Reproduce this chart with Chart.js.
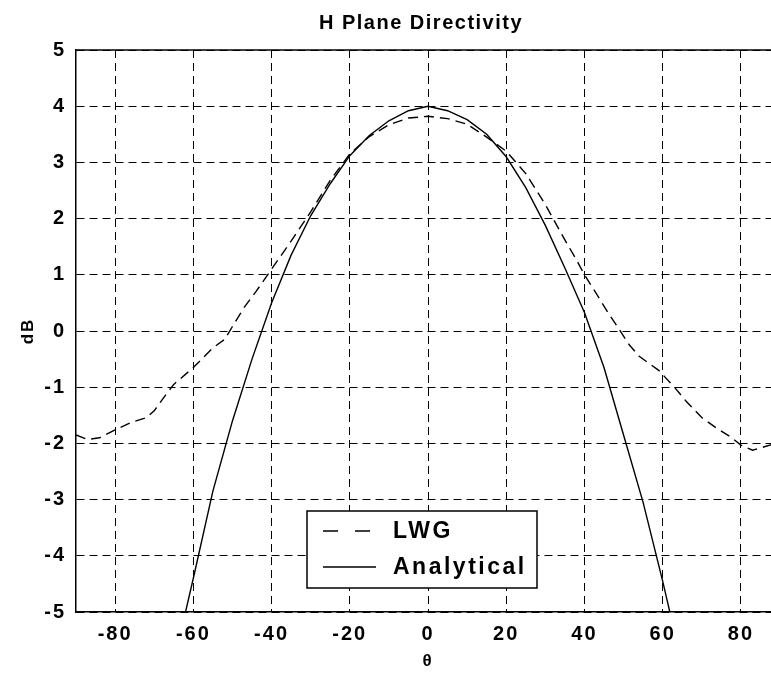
<!DOCTYPE html>
<html>
<head>
<meta charset="utf-8">
<script src="https://cdn.jsdelivr.net/npm/chart.js@4.4.1/dist/chart.umd.min.js"></script>
<style>
  html, body { margin: 0; padding: 0; background: #fff; overflow: hidden; width: 771px; height: 674px; }
  #wrap { width: 790px; height: 674px; }
</style>
</head>
<body>
<div id="wrap"><canvas id="c" width="790" height="674"></canvas></div>
<script>
// Measured (LWG) and analytical H-plane directivity, dB versus angle in degrees
const thetaLWG = [-90, -87, -84, -80, -76, -72, -70, -67, -65, -60, -55, -52, -50, -47, -44, -41, -35, -30, -25, -20, -15, -10, -5, 0,
                  5, 10, 15, 20, 25, 30, 35, 38, 40, 43, 46, 48.5, 51.5, 54, 56, 59, 63, 66, 70, 74, 77.5, 80, 83, 86, 90];
const lwgDB = [-1.85, -1.93, -1.9, -1.76, -1.63, -1.54, -1.42, -1.13, -0.95, -0.65, -0.3, -0.15, 0.08, 0.42, 0.7, 1.0, 1.6, 2.12, 2.68, 3.15, 3.46, 3.67, 3.79, 3.82,
               3.78, 3.68, 3.45, 3.2, 2.8, 2.25, 1.62, 1.26, 1.0, 0.67, 0.33, 0.07, -0.25, -0.45, -0.55, -0.7, -1.0, -1.25, -1.54, -1.74, -1.89, -2.03, -2.12, -2.06, -1.98];

const thetaAnalytical = [-63, -60, -55, -50, -45, -40, -35, -30, -25, -20, -15, -10, -5, 0,
                         5, 10, 15, 20, 25, 30, 35, 40, 45, 50, 55, 60, 63];
const analyticalDB = [-5.3, -4.4, -2.85, -1.6, -0.5, 0.5, 1.35, 2.05, 2.62, 3.12, 3.48, 3.74, 3.92, 4.0,
                      3.92, 3.76, 3.5, 3.1, 2.55, 1.88, 1.12, 0.33, -0.65, -1.85, -3.05, -4.45, -5.35];

const xTickValues = [-80, -60, -40, -20, 0, 20, 40, 60, 80];
const yTickValues = [-5, -4, -3, -2, -1, 0, 1, 2, 3, 4, 5];
const seriesNames = ['LWG', 'Analytical'];
const chartTitle = 'H Plane Directivity';
const xAxisTitle = 'θ';
const yAxisTitle = 'dB';

const FONT = '"Liberation Sans", Arial, Helvetica, sans-serif';

const toPoints = (xs, ys) => xs.map((x, i) => ({ x: x, y: ys[i] }));

// Wider letter spacing for all text drawn on the canvas
const spacingPlugin = {
  id: 'spacing',
  beforeDraw(chart) { chart.ctx.letterSpacing = '2px'; },
  afterDraw(chart) { chart.ctx.letterSpacing = '0px'; }
};

// Top/right frame of the axes box and the plot title
const framePlugin = {
  id: 'frame',
  afterDatasetsDraw(chart) {
    const { ctx, chartArea: a } = chart;
    ctx.save();
    ctx.strokeStyle = '#000';
    ctx.lineWidth = 1.5;
    ctx.setLineDash([]);
    ctx.beginPath();
    ctx.moveTo(a.left, a.top);
    ctx.lineTo(a.right, a.top);
    ctx.lineTo(a.right, a.bottom);
    ctx.stroke();
    ctx.restore();
  },
  afterDraw(chart) {
    const { ctx, chartArea: a } = chart;
    ctx.save();
    ctx.letterSpacing = '1.5px';
    ctx.fillStyle = '#000';
    ctx.font = 'bold 20px ' + FONT;
    ctx.textAlign = 'center';
    ctx.textBaseline = 'middle';
    ctx.fillText(chartTitle, (a.left + a.right) / 2 - 7, a.top - 27);
    ctx.restore();
  }
};

// Boxed legend inside the lower part of the axes
const legendBoxPlugin = {
  id: 'legendBox',
  afterDraw(chart) {
    const { ctx, chartArea: a } = chart;
    const left = a.left + 231, top = a.bottom - 101, w = 230, h = 77;
    ctx.save();
    ctx.fillStyle = '#fff';
    ctx.fillRect(left, top, w, h);
    ctx.strokeStyle = '#000';
    ctx.lineWidth = 1.5;
    ctx.setLineDash([]);
    ctx.strokeRect(left, top, w, h);
    const rows = [top + 20, top + 56];
    chart.data.datasets.forEach((ds, i) => {
      const y = rows[i];
      ctx.beginPath();
      ctx.strokeStyle = ds.borderColor;
      ctx.lineWidth = 1.4;
      ctx.setLineDash(i === 0 ? [15, 17] : []);
      ctx.moveTo(left + 16, y);
      ctx.lineTo(left + 69, y);
      ctx.stroke();
      ctx.setLineDash([]);
      ctx.letterSpacing = '2.5px';
      ctx.fillStyle = '#000';
      ctx.font = 'bold 23px ' + FONT;
      ctx.textAlign = 'left';
      ctx.textBaseline = 'middle';
      ctx.fillText(ds.label, left + 86, y + 1);
    });
    ctx.restore();
  }
};

const tickFont = { family: FONT, size: 20, weight: 'bold' };

new Chart(document.getElementById('c'), {
  type: 'line',
  data: {
    datasets: [
      {
        label: seriesNames[0],
        data: toPoints(thetaLWG, lwgDB),
        borderColor: '#000',
        borderWidth: 1.4,
        borderDash: [10, 6],
        pointRadius: 0,
        tension: 0,
        fill: false
      },
      {
        label: seriesNames[1],
        data: toPoints(thetaAnalytical, analyticalDB),
        borderColor: '#000',
        borderWidth: 1.4,
        pointRadius: 0,
        tension: 0,
        fill: false
      }
    ]
  },
  options: {
    responsive: false,
    animation: false,
    devicePixelRatio: 1,
    layout: { padding: { top: 50, right: 10, left: 0, bottom: 0 } },
    plugins: {
      legend: { display: false },
      tooltip: { enabled: false },
      title: { display: false }
    },
    scales: {
      x: {
        type: 'linear',
        min: -90,
        max: 90,
        afterBuildTicks: s => { s.ticks = xTickValues.map(v => ({ value: v })); },
        afterFit: s => { s.height = 62; },
        grid: { color: '#000', lineWidth: 1, drawTicks: false },
        border: { display: true, color: '#000', width: 1.5, dash: [8, 5] },
        ticks: { color: '#000', font: tickFont, padding: 10, maxRotation: 0, autoSkip: false },
        title: { display: true, text: xAxisTitle, color: '#000',
                 font: { family: FONT, size: 17, weight: 'bold' }, padding: { top: 0, bottom: 2 } }
      },
      y: {
        type: 'linear',
        min: -5,
        max: 5,
        afterBuildTicks: s => { s.ticks = yTickValues.map(v => ({ value: v })); },
        afterFit: s => { s.width = 76; },
        grid: { color: '#000', lineWidth: 1, drawTicks: false },
        border: { display: true, color: '#000', width: 1.5, dash: [8, 5] },
        ticks: { color: '#000', font: tickFont, padding: 10 },
        title: { display: true, text: yAxisTitle, color: '#000',
                 font: { family: FONT, size: 17, weight: 'bold' }, padding: { top: 18, bottom: 0 } }
      }
    }
  },
  plugins: [spacingPlugin, framePlugin, legendBoxPlugin]
});
</script>
</body>
</html>
